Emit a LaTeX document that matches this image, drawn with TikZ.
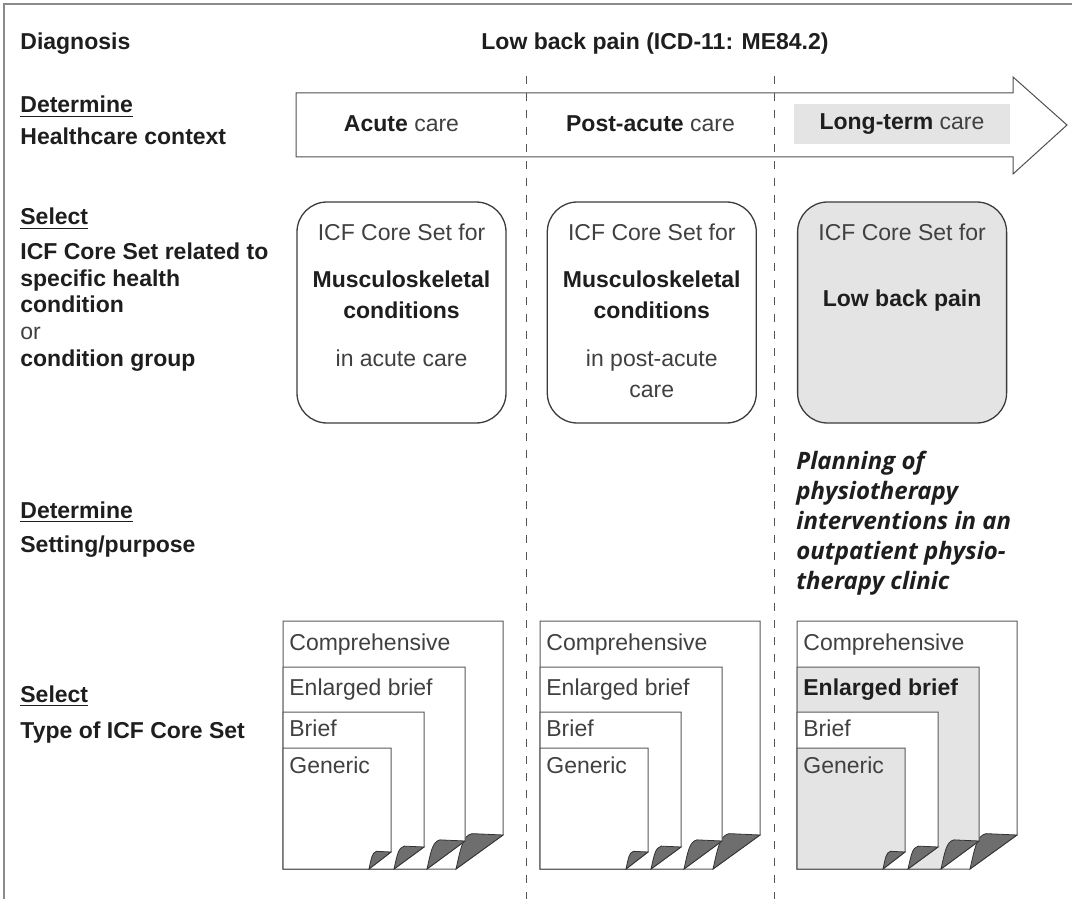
\documentclass[tikz,border=0pt]{standalone}
\usepackage{fontspec}
\setmainfont{Liberation Sans}
\newfontfamily\planfont{Open Sans}
\usetikzlibrary{positioning}
\definecolor{Ink}{HTML}{1E1E1E}
\definecolor{LiteInk}{HTML}{404040}
\definecolor{FillGray}{HTML}{E4E4E4}
\definecolor{BoxLine}{HTML}{3C3C3C}
\definecolor{ArrowLine}{HTML}{505050}
\definecolor{PageLine}{HTML}{5A5A5A}
\definecolor{FoldGray}{HTML}{6E6E6E}
\definecolor{DivGray}{HTML}{555555}
\definecolor{FrameGray}{HTML}{8A8A8A}
\newcommand{\lite}[1]{\textcolor{LiteInk}{#1}}
% one sheet of the stack: left, top, width, fold width, fold height, fill
\newcommand{\icfpage}[6]{%
  \filldraw[fill=#6, draw=PageLine, line width=0.5pt]
    (#1,#2) -- (#1+#3,#2) -- (#1+#3,869-#5) -- (#1+#3-#4,869) -- (#1,869) -- cycle;
  \filldraw[fill=FoldGray, draw=black!80, line width=0.4pt]
    (#1+#3-#4,869) .. controls (#1+#3-0.9*#4,869-0.6*#5) and (#1+#3-0.86*#4,869-0.98*#5)
    .. (#1+#3-0.66*#4,869-1.04*#5) -- (#1+#3,869-#5) -- cycle;
}
\AtBeginDocument{\fontsize{11.5pt}{13.8pt}\selectfont}

\begin{document}
\begin{tikzpicture}[
    x=0.5pt, y=-0.5pt,
    lbl/.style={anchor=base west, inner sep=0pt, font=\bfseries, text=Ink},
    head/.style={anchor=base, inner sep=0pt, text=Ink},
    icfbox/.style={draw=BoxLine, line width=0.65pt, rounded corners=15pt, minimum width=104.5pt, minimum height=110.5pt, inner sep=0pt},
    pagetext/.style={anchor=base west, inner sep=0pt, text=Ink},
    divider/.style={draw=DivGray, line width=0.5pt, dash pattern=on 4pt off 4.5pt}
  ]
    \useasboundingbox (0,0) rectangle (1072,899);
    \draw[FrameGray, line width=0.6pt] (1072,4) -- (4,4) -- (4,899);

    % row labels
    \node[lbl] (diag) at (20,50) {Diagnosis};
    \node[head, font=\bfseries] (lbp) at (655,50) {Low back pain (ICD-11: ME84.2)};
    \node[lbl] (detctx) at (20,113) {\underline{Determine}};
    \node[lbl] (ctx) at (20,145) {Healthcare context};
    \node[lbl] (selcs) at (20,225) {\underline{Select}};
    \node[lbl] (csrel) at (20,259) {ICF Core Set related to};
    \node[lbl] (cshealth) at (20,286) {specific health};
    \node[lbl] (cscond) at (20,313) {condition};
    \node[lbl, font=\mdseries, text=LiteInk] (csor) at (20,339) {or};
    \node[lbl] (csgroup) at (20,366) {condition group};
    \node[lbl] (detset) at (20,518) {\underline{Determine}};
    \node[lbl] (setting) at (20,552) {Setting/purpose};
    \node[lbl] (seltype) at (20,702) {\underline{Select}};
    \node[lbl] (type) at (20,738) {Type of ICF Core Set};

    % healthcare context arrow
    \draw[draw=ArrowLine, fill=white, line width=0.5pt]
      (296,93) -- (1013,93) -- (1013,77) -- (1067,125) -- (1013,174) -- (1013,157) -- (296,157) -- cycle;
    \node[head] (acute) at (401.5,132) {\textbf{Acute} \lite{care}};
    \node[head] (postacute) at (650.5,132) {\textbf{Post-acute} \lite{care}};
    \node[fill=FillGray, minimum width=108pt, minimum height=20pt, inner sep=0pt, text=Ink] (longterm) at (902,124) {\textbf{Long-term} \lite{care}};

    \draw[divider] (526,76) -- (526,899);
    \draw[divider] (774,76) -- (774,899);

    % core set boxes
    \node[icfbox] (acutebox) at (401.5,312.5) {};
    \node[icfbox, right=20pt of acutebox] (postbox) {};
    \node[icfbox, fill=FillGray, right=20pt of postbox] (longbox) {};
    \node[head] (acutefor) at ([yshift=-19.5pt]acutebox.north) {\lite{ICF Core Set for}};
    \node[head, font=\bfseries] (acutemsk) at ([yshift=-43pt]acutebox.north) {Musculoskeletal};
    \node[head, font=\bfseries] (acutecond) at ([yshift=-58.5pt]acutebox.north) {conditions};
    \node[head] (acutein) at ([yshift=-82.5pt]acutebox.north) {\lite{in acute care}};
    \node[head] (postfor) at ([yshift=-19.5pt]postbox.north) {\lite{ICF Core Set for}};
    \node[head, font=\bfseries] (postmsk) at ([yshift=-43pt]postbox.north) {Musculoskeletal};
    \node[head, font=\bfseries] (postcond) at ([yshift=-58.5pt]postbox.north) {conditions};
    \node[head] (postin) at ([yshift=-82.5pt]postbox.north) {\lite{in post-acute}};
    \node[head] (postcare) at ([yshift=-98pt]postbox.north) {\lite{care}};
    \node[head] (longfor) at ([yshift=-19.5pt]longbox.north) {\lite{ICF Core Set for}};
    \node[head, font=\bfseries] (longlbp) at ([yshift=-52.5pt]longbox.north) {Low back pain};

    % setting / purpose
    \node[anchor=north west, inner sep=0pt, align=left, text=Ink,
          font=\planfont\bfseries\itshape\fontsize{12pt}{15pt}\selectfont] (purpose) at (796,451)
      {Planning of\\physiotherapy\\interventions in an\\outpatient physio-\\therapy clinic};

    % stacks of core set types
    \foreach \px/\tag/\shade/\enl in {283/a/white/\lite, 540/b/white/\lite, 797/c/FillGray/\textbf}{
      \icfpage{\px}{621}{220}{47}{34}{white}
      \icfpage{\px}{667}{182}{38}{28}{\shade}
      \icfpage{\px}{712}{141}{30}{22}{white}
      \icfpage{\px}{748}{108}{22}{17}{\shade}
      \node[pagetext] (comp\tag) at (\px+6,650) {\lite{Comprehensive}};
      \node[pagetext] (enl\tag) at (\px+6,695) {\enl{Enlarged brief}};
      \node[pagetext] (brief\tag) at (\px+6,736) {\lite{Brief}};
      \node[pagetext] (gen\tag) at (\px+6,773) {\lite{Generic}};
    }
  \end{tikzpicture}
\end{document}
